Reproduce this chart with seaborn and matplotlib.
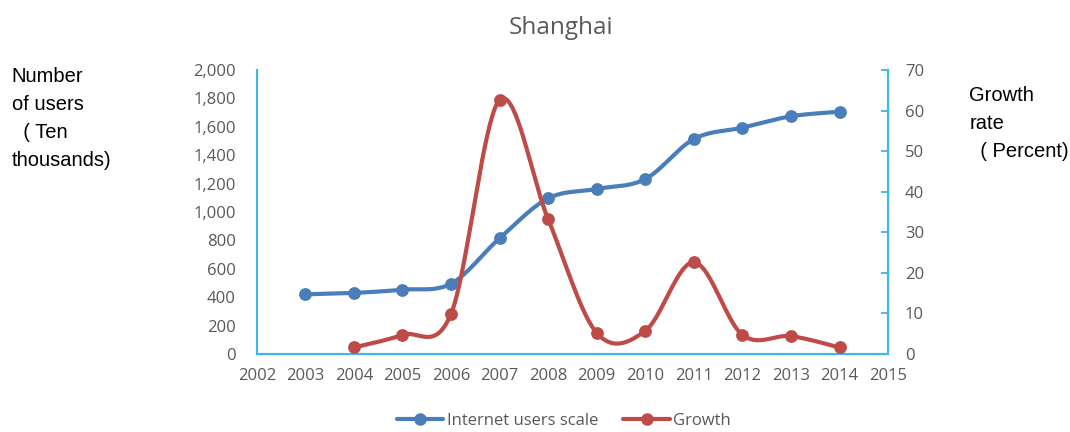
import numpy as np
import pandas as pd
import matplotlib
matplotlib.use("Agg")
import matplotlib.pyplot as plt
import seaborn as sns
from matplotlib.lines import Line2D

# values
years = [2003, 2004, 2005, 2006, 2007, 2008, 2009, 2010, 2011, 2012, 2013, 2014]
users = [420, 430, 453, 495, 815, 1096, 1162, 1232, 1514, 1594, 1674, 1706]
growth_years = [2004, 2005, 2006, 2007, 2008, 2009, 2010, 2011, 2012, 2013, 2014]
growth = [1.6, 4.7, 9.9, 62.6, 33.2, 5.2, 5.7, 22.6, 4.7, 4.4, 1.6]

blue = "#4A7EBB"
red = "#BE4B48"
axis_col = "#3DB7EE"
tick_col = "#595959"


def smooth(xs, ys, n=40):
    # Excel-style smoothed line: cubic bezier with catmull-rom control points
    xs = np.asarray(xs, float)
    ys = np.asarray(ys, float)
    px, py = [], []
    for i in range(len(xs) - 1):
        i0 = max(i - 1, 0)
        i3 = min(i + 2, len(xs) - 1)
        c1x = xs[i] + (xs[i + 1] - xs[i0]) / 6
        c1y = ys[i] + (ys[i + 1] - ys[i0]) / 6
        c2x = xs[i + 1] - (xs[i3] - xs[i]) / 6
        c2y = ys[i + 1] - (ys[i3] - ys[i]) / 6
        t = np.linspace(0, 1, n)
        bx = (1 - t) ** 3 * xs[i] + 3 * (1 - t) ** 2 * t * c1x + 3 * (1 - t) * t ** 2 * c2x + t ** 3 * xs[i + 1]
        by = (1 - t) ** 3 * ys[i] + 3 * (1 - t) ** 2 * t * c1y + 3 * (1 - t) * t ** 2 * c2y + t ** 3 * ys[i + 1]
        px.extend(bx)
        py.extend(by)
    return pd.DataFrame({"x": px, "y": py})


sns.set_style("white")
plt.rcParams["font.family"] = ["Liberation Sans", "DejaVu Sans"]

fig = plt.figure(figsize=(10.7, 4.32), dpi=100)
ax = fig.add_axes([0.240, 0.1806, 0.590, 0.6574])
ax2 = ax.twinx()

users_s = smooth(years, users)
growth_s = smooth(growth_years, growth)

sns.lineplot(data=users_s, x="x", y="y", ax=ax, color=blue, linewidth=3.0,
             sort=False, estimator=None, zorder=3)
sns.scatterplot(x=years, y=users, ax=ax, color=blue, s=85, edgecolor=blue,
                linewidth=0, zorder=4)
sns.lineplot(data=growth_s, x="x", y="y", ax=ax2, color=red, linewidth=3.0,
             sort=False, estimator=None, zorder=3)
sns.scatterplot(x=growth_years, y=growth, ax=ax2, color=red, s=85, edgecolor=red,
                linewidth=0, zorder=4)

ax.set_xlim(2002, 2015)
ax.set_ylim(0, 2000)
ax2.set_ylim(0, 70)
ax.set_xticks(range(2002, 2016))
ax.set_yticks(range(0, 2001, 200))
ax.set_yticklabels([f"{v:,}" for v in range(0, 2001, 200)])
ax2.set_yticks(range(0, 71, 10))
ax.set_xlabel("")
ax.set_ylabel("")
ax2.set_ylabel("")

for a in (ax, ax2):
    a.spines["top"].set_visible(False)
    for side in ("left", "right", "bottom"):
        a.spines[side].set_color(axis_col)
        a.spines[side].set_linewidth(1.5)

ax.tick_params(axis="x", direction="in", length=5, width=1.3, color=axis_col,
               labelcolor=tick_col, labelsize=12, pad=10)
ax.tick_params(axis="y", length=0, labelcolor=tick_col, labelsize=12, pad=15)
ax2.tick_params(axis="y", direction="in", length=5, width=1.3, color=axis_col,
                labelcolor=tick_col, labelsize=12, pad=12)
for lab in ax.get_xticklabels() + ax.get_yticklabels() + ax2.get_yticklabels():
    lab.set_fontfamily(["Open Sans", "DejaVu Sans"])

fig.text(0.524, 0.935, "Shanghai", ha="center", va="center", fontsize=17.5,
         color=tick_col, family=["Open Sans", "DejaVu Sans"])

fig.text(0.011, 0.845, "Number\nof users\n  ( Ten\nthousands)", ha="left", va="top",
         fontsize=14.5, linespacing=1.6, color="black")
fig.text(0.906, 0.80, "Growth\nrate\n  ( Percent)", ha="left", va="top",
         fontsize=14.5, linespacing=1.6, color="black")

handles = [
    Line2D([0], [0], color=blue, linewidth=3.0, marker="o", markersize=8),
    Line2D([0], [0], color=red, linewidth=3.0, marker="o", markersize=8),
]
leg = fig.legend(handles, ["Internet users scale", "Growth"], loc="center",
                 bbox_to_anchor=(0.527, 0.025), ncol=2, frameon=False,
                 fontsize=12, handlelength=2.8, columnspacing=1.5, handletextpad=0.2)
for t in leg.get_texts():
    t.set_color(tick_col)
    t.set_fontfamily(["Open Sans", "DejaVu Sans"])

fig.savefig("out.png", dpi=100)
